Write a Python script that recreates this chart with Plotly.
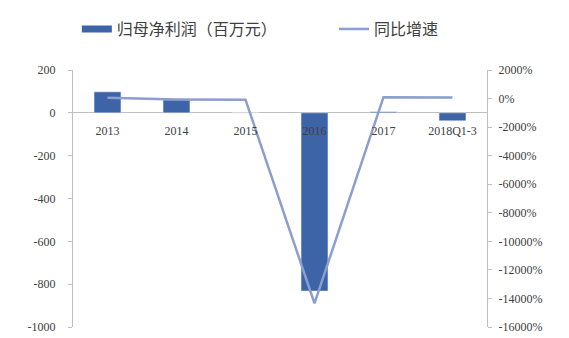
import plotly.graph_objects as go

# datos
periodos = ['2013', '2014', '2015', '2016', '2017', '2018Q1-3']
beneficio = [98, 60, 0, -832, 5, -37]          # 归母净利润（百万元）
crecimiento = [50, -60, -80, -14350, 100, 80]  # 同比增速 (%)

ticks_izq = [200, 0, -200, -400, -600, -800, -1000]
etiquetas_izq = [str(v) for v in ticks_izq]
ticks_der = [2000, 0, -2000, -4000, -6000, -8000, -10000, -12000, -14000, -16000]
etiquetas_der = [f'{v}%' for v in ticks_der]

color_barra = '#3C64A6'
color_linea = '#8C9ECE'
fuente_num = dict(family='Liberation Serif', size=12, color='#404040')
fuente_ley = dict(family='Noto Sans CJK SC', size=16, color='#404040')

fig = go.Figure()
fig.add_trace(go.Bar(x=periodos, y=beneficio, name='归母净利润（百万元）',
                     marker=dict(color=color_barra), width=0.39, showlegend=False))
# entrada de leyenda con muestra rectangular ancha (estilo Excel)
fig.add_trace(go.Scatter(x=[None], y=[None], name='归母净利润（百万元）', mode='lines',
                         line=dict(color=color_barra, width=7), hoverinfo='skip',
                         legend='legend'))
fig.add_trace(go.Scatter(x=periodos, y=crecimiento, name='同比增速', yaxis='y2',
                         mode='lines', line=dict(color=color_linea, width=2.5),
                         legend='legend2'))

# posicion del eje x en el cero del eje izquierdo
pos_cero = (0 - (-1000)) / (200 - (-1000))

# la pagina tiene 8px de margen en el body, se compensa aqui
fig.update_layout(
    width=569, height=338,
    margin=dict(l=65, r=90, t=62, b=19, autoexpand=False),
    plot_bgcolor='white', paper_bgcolor='white',
    showlegend=True,
    legend=dict(orientation='h', x=0.121, xanchor='left', xref='container',
                y=0.988, yanchor='top', yref='container', font=fuente_ley),
    legend2=dict(orientation='h', x=0.573, xanchor='left', xref='container',
                 y=0.988, yanchor='top', yref='container', font=fuente_ley),
    xaxis=dict(type='category', anchor='free', position=pos_cero, showline=False,
               showgrid=False, ticks='', tickfont=fuente_num, ticklabelstandoff=9),
    yaxis=dict(range=[-1000, 200], tickvals=ticks_izq, ticktext=etiquetas_izq, showgrid=False,
               zeroline=True, zerolinecolor='#BFBFBF', zerolinewidth=1,
               showline=True, linecolor='#BFBFBF', ticks='outside', ticklen=4,
               tickcolor='#BFBFBF', tickfont=fuente_num, ticklabelstandoff=10),
    yaxis2=dict(range=[-16000, 2000], overlaying='y', side='right',
                tickvals=ticks_der, ticktext=etiquetas_der, showgrid=False,
                zeroline=False, showline=True, linecolor='#BFBFBF',
                ticks='outside', ticklen=4, tickcolor='#BFBFBF',
                tickfont=fuente_num, ticklabelstandoff=4),
)

fig.write_html('out.html')
